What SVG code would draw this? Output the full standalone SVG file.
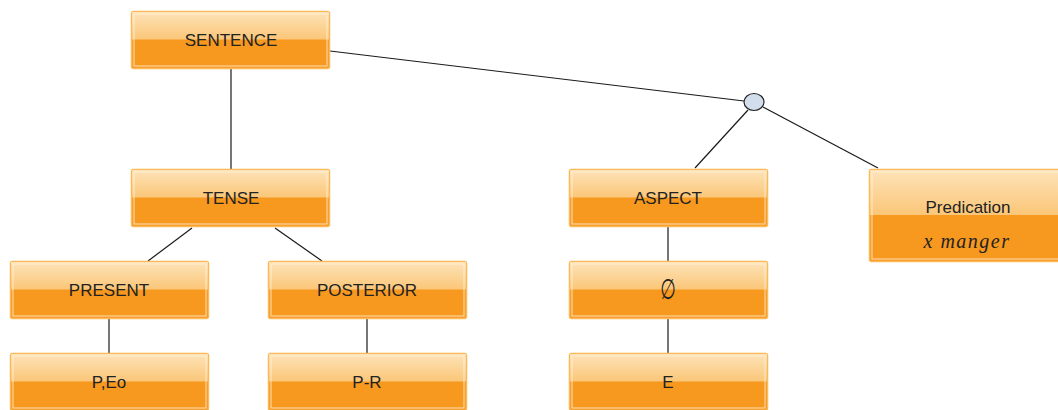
<svg xmlns="http://www.w3.org/2000/svg" width="1058" height="410" viewBox="0 0 1058 410">
<defs>
<linearGradient id="top" x1="0" y1="0" x2="0" y2="1">
<stop offset="0" stop-color="#fde3b8"/>
<stop offset="1" stop-color="#fbc678"/>
</linearGradient>
<style>
.outer{fill:#f7981f;stroke:#fbb957;stroke-width:1.5}
.hi{fill:url(#top)}
.inner{fill:none;stroke:#fff3dc;stroke-width:1;opacity:0.8}
.lbl{font-family:"Liberation Sans",Arial,sans-serif;font-size:17px;fill:#222;text-anchor:middle}
.math{font-family:"Liberation Serif","Times New Roman",serif;font-style:italic;font-size:20px;fill:#222;text-anchor:middle;letter-spacing:1.5px}
.conn line{stroke:#1a1a1a;stroke-width:1.2}
</style>
</defs>
<rect width="1058" height="410" fill="#fff"/>
<g class="conn">
<line x1="330" y1="51" x2="744" y2="101"/>
<line x1="231" y1="68" x2="231" y2="169"/>
<line x1="192" y1="228" x2="148" y2="261"/>
<line x1="275" y1="228" x2="322" y2="261"/>
<line x1="109" y1="319" x2="109" y2="353"/>
<line x1="367" y1="319" x2="367" y2="353"/>
<line x1="748" y1="110" x2="695" y2="168"/>
<line x1="763" y1="107" x2="878" y2="168"/>
<line x1="668" y1="227" x2="668" y2="261"/>
<line x1="668" y1="319" x2="668" y2="353"/>
</g>
<g id="choice"><ellipse cx="754" cy="102" rx="10" ry="8.5" fill="#d3deed" stroke="#222" stroke-width="1.2"/></g>
<g id="sentence">
<rect class="outer" x="131.5" y="11.5" width="198" height="57" rx="2"/>
<rect class="hi" x="132" y="12" width="197" height="27.5"/>
<rect class="inner" x="134" y="14" width="193" height="52"/>
<text class="lbl" x="231" y="46">SENTENCE</text>
</g>
<g id="tense">
<rect class="outer" x="131.5" y="169.5" width="198" height="57" rx="2"/>
<rect class="hi" x="132" y="170" width="197" height="27.5"/>
<rect class="inner" x="134" y="172" width="193" height="52"/>
<text class="lbl" x="231" y="204">TENSE</text>
</g>
<g id="present">
<rect class="outer" x="10.5" y="261.5" width="198" height="57" rx="2"/>
<rect class="hi" x="11" y="262" width="197" height="27.5"/>
<rect class="inner" x="13" y="264" width="193" height="52"/>
<text class="lbl" x="109" y="296">PRESENT</text>
</g>
<g id="posterior">
<rect class="outer" x="268.5" y="261.5" width="198" height="57" rx="2"/>
<rect class="hi" x="269" y="262" width="197" height="27.5"/>
<rect class="inner" x="271" y="264" width="193" height="52"/>
<text class="lbl" x="367" y="296">POSTERIOR</text>
</g>
<g id="peo">
<rect class="outer" x="10.5" y="353.5" width="198" height="57" rx="2"/>
<rect class="hi" x="11" y="354" width="197" height="27.5"/>
<rect class="inner" x="13" y="356" width="193" height="52"/>
<text class="lbl" x="109" y="388">P,Eo</text>
</g>
<g id="pr">
<rect class="outer" x="268.5" y="353.5" width="198" height="57" rx="2"/>
<rect class="hi" x="269" y="354" width="197" height="27.5"/>
<rect class="inner" x="271" y="356" width="193" height="52"/>
<text class="lbl" x="367" y="388">P-R</text>
</g>
<g id="aspect">
<rect class="outer" x="569.5" y="169.5" width="198" height="57" rx="2"/>
<rect class="hi" x="570" y="170" width="197" height="27.5"/>
<rect class="inner" x="572" y="172" width="193" height="52"/>
<text class="lbl" x="668" y="204">ASPECT</text>
</g>
<g id="empty">
<rect class="outer" x="569.5" y="261.5" width="198" height="57" rx="2"/>
<rect class="hi" x="570" y="262" width="197" height="27.5"/>
<rect class="inner" x="572" y="264" width="193" height="52"/>
<text x="0" y="0" transform="translate(668 298.5) scale(0.85 1.35)" style="font-family:'DejaVu Sans',sans-serif;font-size:21px;fill:#222;text-anchor:middle">∅</text>
</g>
<g id="e">
<rect class="outer" x="569.5" y="353.5" width="198" height="57" rx="2"/>
<rect class="hi" x="570" y="354" width="197" height="27.5"/>
<rect class="inner" x="572" y="356" width="193" height="52"/>
<text class="lbl" x="668" y="388">E</text>
</g>
<g id="predication">
<rect class="outer" x="869.5" y="169.5" width="198" height="92" rx="2"/>
<rect class="hi" x="870" y="170" width="197" height="45"/>
<rect class="inner" x="872" y="172" width="193" height="87"/>
<text class="lbl" x="968" y="213">Predication</text>
<text class="math" x="967" y="248">x manger</text>
</g>
</svg>
